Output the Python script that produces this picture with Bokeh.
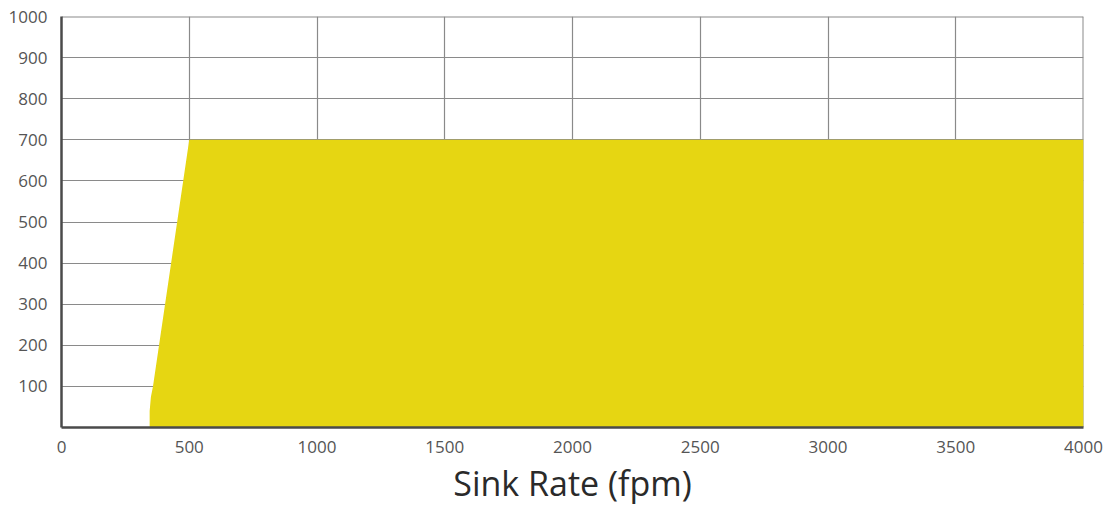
from bokeh.plotting import figure
from bokeh.models import Range1d, FixedTicker, Span
from bokeh.embed import file_html
from bokeh.resources import INLINE

# Envelope of the warning area (sink rate vs height above terrain)
sink_rate = [345, 345, 350, 358, 500, 4000, 4000]
height_agl = [0, 40, 75, 100, 700, 700, 0]

x_ticks = [0, 500, 1000, 1500, 2000, 2500, 3000, 3500, 4000]
y_ticks = [100, 200, 300, 400, 500, 600, 700, 800, 900, 1000]
x_max = 4000
y_max = 1000

p = figure(width=1104, height=512, output_backend="svg", toolbar_location=None,
           x_range=Range1d(0, x_max), y_range=Range1d(0, y_max),
           min_border_left=61, min_border_right=21, min_border_top=16, min_border_bottom=85)
p.outline_line_color = None
p.background_fill_color = "white"

p.patch(sink_rate, height_agl, fill_color="#E6D612", line_color=None)

for ax in (p.xaxis[0], p.yaxis[0]):
    ax.axis_line_color = "#4a4a4a"
    ax.axis_line_width = 2.5
    ax.major_tick_line_color = None
    ax.minor_tick_line_color = None
    ax.major_label_text_font = "Open Sans"
    ax.major_label_text_font_size = "17px"
    ax.major_label_text_color = "#555555"

p.xaxis.ticker = FixedTicker(ticks=x_ticks)
p.yaxis.ticker = FixedTicker(ticks=y_ticks)
p.xaxis.major_label_standoff = 7
p.yaxis.major_label_standoff = 8
p.xaxis.axis_label = "Sink Rate (fpm)"
p.xaxis.axis_label_text_font = "Open Sans"
p.xaxis.axis_label_text_font_size = "34px"
p.xaxis.axis_label_text_font_style = "normal"
p.xaxis.axis_label_text_color = "#2a2a2a"
p.xaxis.axis_label_standoff = 4

p.xgrid.ticker = FixedTicker(ticks=x_ticks)
p.ygrid.ticker = FixedTicker(ticks=y_ticks)
p.xgrid.grid_line_color = "#8a8a8a"
p.ygrid.grid_line_color = "#8a8a8a"
p.xgrid.grid_line_width = 1.2
p.ygrid.grid_line_width = 1.2

# top and right borders of the grid (beneath the fill)
p.add_layout(Span(location=x_max, dimension="height", line_color="#8a8a8a",
                  line_width=2, level="underlay"))
p.add_layout(Span(location=y_max, dimension="width", line_color="#8a8a8a",
                  line_width=2, level="underlay"))

open("out.html", "w").write(file_html(p, INLINE))
